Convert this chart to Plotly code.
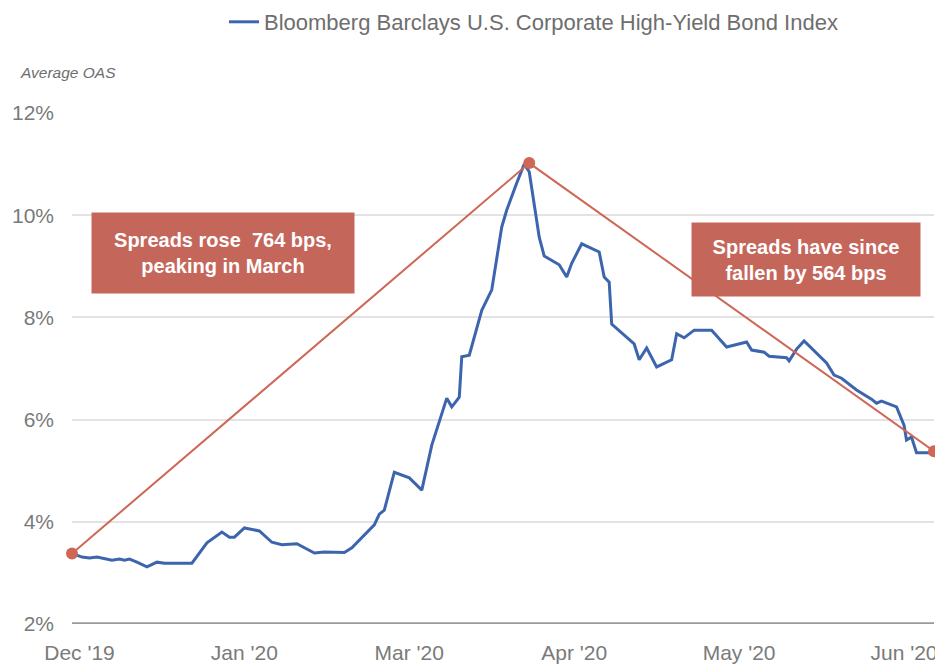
import plotly.graph_objects as go

# index of each observation along the x axis (evenly spaced categories)
period = [0, 4, 7, 10, 16, 19, 21, 23, 26, 30, 34, 37, 48, 54, 60, 63, 65, 69, 75, 80,
          84, 90, 97, 101, 109, 112, 121, 123, 125, 129, 135, 140, 144, 150, 152, 155,
          156, 159, 164, 168, 172, 174, 178, 181, 183, 187, 189, 195, 198, 200, 204,
          211, 213, 215, 216, 225, 227, 230, 234, 240, 242, 245, 249, 256, 262, 270,
          272, 277, 279, 286, 287, 290, 293, 302, 305, 308, 314, 320, 322, 324, 330,
          331, 333, 334, 336, 338, 343]
oas = [3.38, 3.31, 3.29, 3.31, 3.25, 3.27, 3.25, 3.27, 3.21, 3.12, 3.21, 3.19, 3.19,
       3.59, 3.80, 3.70, 3.70, 3.88, 3.82, 3.60, 3.55, 3.57, 3.39, 3.41, 3.40, 3.49,
       3.94, 4.15, 4.23, 4.97, 4.86, 4.62, 5.50, 6.42, 6.25, 6.44, 7.23, 7.26, 8.14,
       8.54, 9.77, 10.10, 10.63, 11.00, 10.85, 9.57, 9.20, 9.03, 8.79, 9.06, 9.44,
       9.28, 8.79, 8.69, 7.87, 7.48, 7.17, 7.40, 7.03, 7.17, 7.68, 7.60, 7.75, 7.75,
       7.42, 7.52, 7.36, 7.32, 7.24, 7.21, 7.15, 7.38, 7.54, 7.11, 6.87, 6.81, 6.58,
       6.40, 6.32, 6.36, 6.25, 6.13, 5.89, 5.60, 5.66, 5.35, 5.35]

# start, peak and latest spread levels
trend_period = [0, 183, 345]
trend_oas = [3.38, 11.02, 5.38]

tick_period = [3, 69, 135, 201, 267, 333]
tick_text = ["Dec '19", "Jan '20", "Mar '20", "Apr '20", "May '20", "Jun '20"]

blue = "#3c65ae"
red = "#cf6656"
box = "#c5665b"
grey_txt = "#7a7a7a"

# page body adds an 8px margin, so the figure is drawn 8px smaller
W, H = 935, 657

fig = go.Figure()
fig.add_trace(go.Scatter(
    x=period, y=oas, mode="lines",
    name="Bloomberg Barclays U.S. Corporate High-Yield Bond Index",
    line=dict(color=blue, width=3)))
fig.add_trace(go.Scatter(
    x=trend_period, y=trend_oas, mode="lines+markers", showlegend=False,
    line=dict(color=red, width=2), marker=dict(color=red, size=12),
    cliponaxis=False))

box_font = dict(family="Liberation Sans", size=20, color="white", weight="bold")
fig.add_annotation(
    x=60.6, y=9.26, showarrow=False,
    text="Spreads rose  764 bps,<br>peaking in March",
    font=box_font, bgcolor=box, width=260, height=78, borderpad=1, align="center")
fig.add_annotation(
    x=293.8, y=9.13, showarrow=False,
    text="Spreads have since<br>fallen by 564 bps",
    font=box_font, bgcolor=box, width=226, height=71, borderpad=1, align="center")
fig.add_annotation(
    x=(18 - 72) / 862, y=(624 - 72) / 511, xref="paper", yref="paper",
    showarrow=False, text="<i>Average OAS</i>", xanchor="left", yanchor="middle",
    font=dict(family="Liberation Sans", size=15.5, color="#6e6e6e"))

fig.update_layout(
    width=W, height=H,
    margin=dict(l=64, r=9, t=105, b=41),
    paper_bgcolor="white", plot_bgcolor="white",
    font=dict(family="Liberation Sans", color=grey_txt, size=21),
    showlegend=True,
    legend=dict(orientation="h", xref="container", yref="container",
                x=216 / W, y=1 - 14 / H, xanchor="left", yanchor="middle",
                font=dict(size=22, color="#6e6e6e"), bgcolor="rgba(0,0,0,0)"),
)
fig.update_xaxes(
    range=[0, 345], tickmode="array", tickvals=tick_period, ticktext=tick_text,
    showgrid=False, zeroline=False, showline=False, ticks="",
    ticklabelstandoff=14, automargin=False)
fig.update_yaxes(
    range=[2, 12], dtick=2, ticksuffix="%", tickformat="d",
    showgrid=True, gridcolor="#e3e3e3", gridwidth=1.5, zeroline=False,
    showline=False, ticks="", ticklabelstandoff=17, automargin=False)
# bottom baseline of the plot
fig.add_hline(y=2, line=dict(color="#9a9a9a", width=3.5))

fig.write_html("out.html")
